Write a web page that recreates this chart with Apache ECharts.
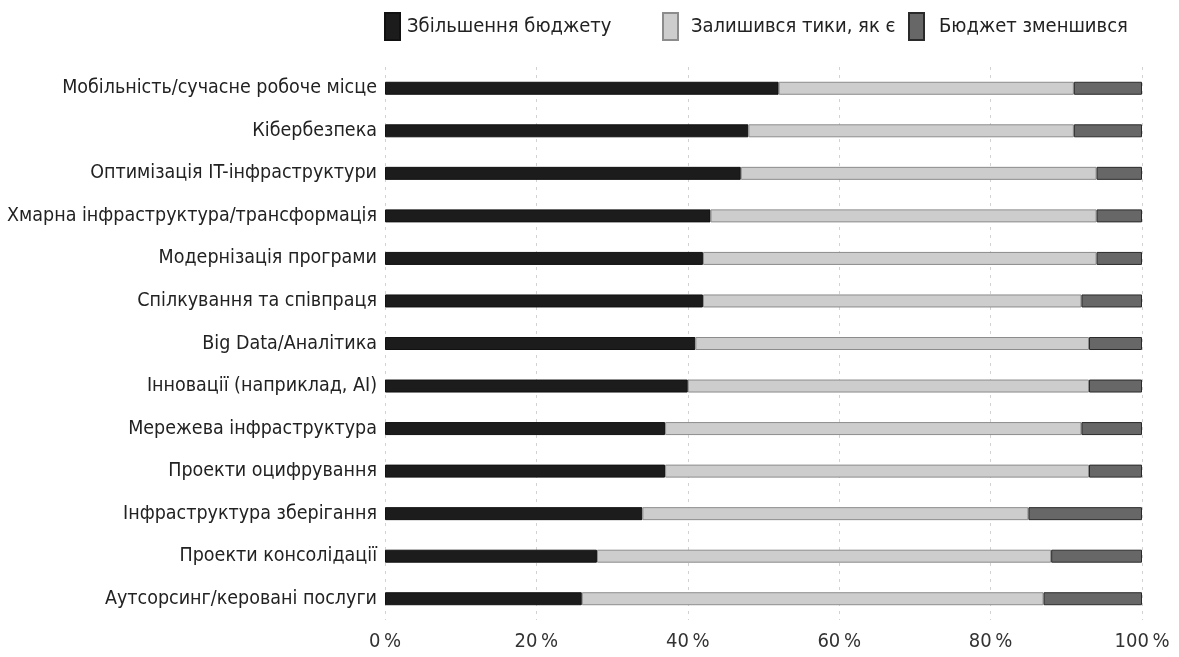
<!DOCTYPE html>
<html>
<head>
<meta charset="utf-8">
<script src="https://cdn.jsdelivr.net/npm/echarts@6/dist/echarts.min.js"></script>
<style>
  html, body { margin: 0; padding: 0; background: #fff; }
  #chart { width: 1179px; height: 657px; }
</style>
</head>
<body>
<div id="chart"></div>
<script>
// Budget change by IT area, share of respondents (%)
const categories = [
  'Мобільність/сучасне робоче місце',
  'Кібербезпека',
  'Оптимізація IT-інфраструктури',
  'Хмарна інфраструктура/трансформація',
  'Модернізація програми',
  'Спілкування та співпраця',
  'Big Data/Аналітика',
  'Інновації (наприклад, AI)',
  'Мережева інфраструктура',
  'Проекти оцифрування',
  'Інфраструктура зберігання',
  'Проекти консолідації',
  'Аутсорсинг/керовані послуги'
];
const seriesNames = ['Збільшення бюджету', 'Залишився тики, як є', 'Бюджет зменшився'];
const increased = [52, 48, 47, 43, 42, 42, 41, 40, 37, 37, 34, 28, 26];
const unchanged = [39, 43, 47, 51, 52, 50, 52, 53, 55, 56, 51, 60, 61];
const decreased = [9, 9, 6, 6, 6, 8, 7, 7, 8, 7, 15, 12, 13];
const axisTicks = [0, 20, 40, 60, 80, 100];

const font = '"DejaVu Sans Condensed", "Liberation Sans Narrow", "Liberation Sans", sans-serif';
const fills = ['#1c1c1c', '#cdcdcd', '#676767'];
const borders = ['#111111', '#8c8c8c', '#2a2a2a'];
const values = [increased, unchanged, decreased];

// one legend block per series, spaced along the top
const legendLeft = [384, 662, 908];
const legendTextPad = [2, 8, 10];

const chart = echarts.init(document.getElementById('chart'), null, { renderer: 'canvas' });
chart.setOption({
  backgroundColor: '#ffffff',
  animation: false,
  textStyle: { fontFamily: font },
  legend: seriesNames.map((name, i) => ({
    data: [name],
    left: legendLeft[i],
    top: 12,
    padding: 0,
    itemWidth: 15,
    itemHeight: 27,
    itemGap: 0,
    icon: 'rect',
    textStyle: { fontFamily: font, fontSize: 20, color: '#222', padding: [0, 0, 0, legendTextPad[i]] }
  })),
  grid: { left: 385, right: 37, top: 67, bottom: 37, containLabel: false },
  xAxis: {
    type: 'value',
    min: axisTicks[0],
    max: axisTicks[axisTicks.length - 1],
    interval: axisTicks[1] - axisTicks[0],
    axisLine: { show: false },
    axisTick: { show: false },
    splitLine: { show: true, lineStyle: { color: '#d2d2d2', type: [3, 5], width: 1 } },
    axisLabel: {
      formatter: v => v + '\u2009%',
      fontFamily: font, fontSize: 20, color: '#333', margin: 12
    }
  },
  yAxis: {
    type: 'category',
    inverse: true,
    data: categories,
    axisLine: { show: false },
    axisTick: { show: false },
    splitLine: { show: false },
    axisLabel: { fontFamily: font, fontSize: 19.5, color: '#222', margin: 8 }
  },
  series: seriesNames.map((name, i) => ({
    name,
    type: 'bar',
    stack: 'total',
    barWidth: 13,
    data: values[i],
    itemStyle: { color: fills[i], borderColor: borders[i], borderWidth: 1 }
  }))
});
</script>
</body>
</html>
